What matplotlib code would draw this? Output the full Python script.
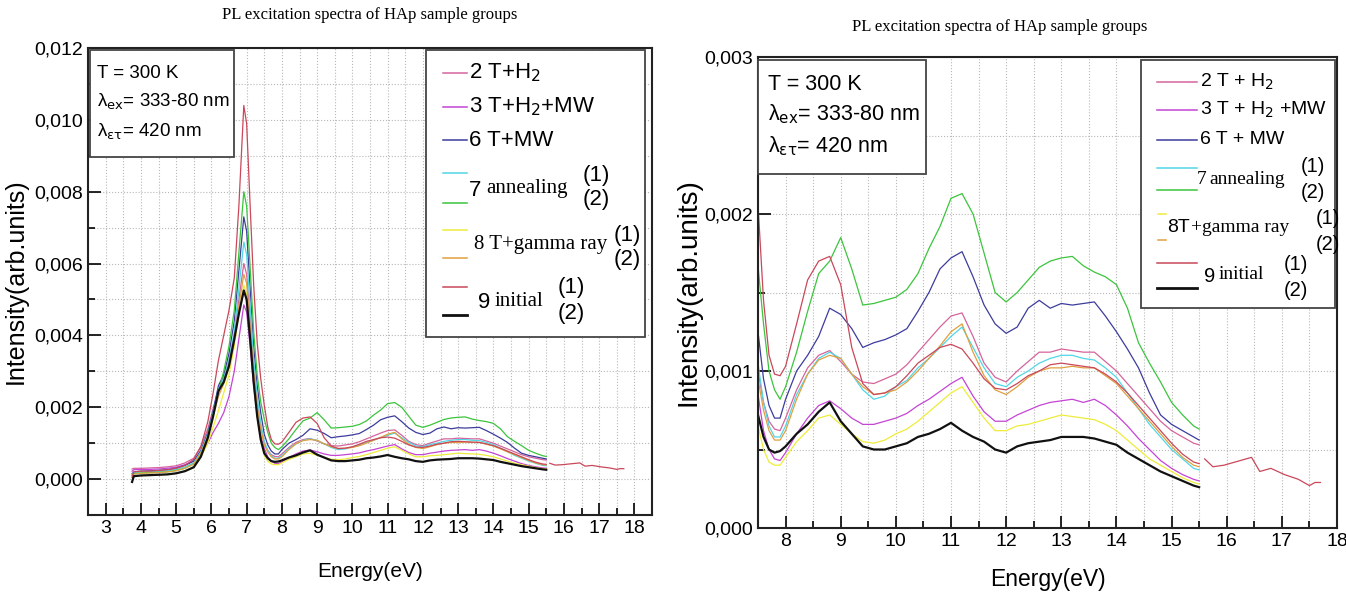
import matplotlib
matplotlib.use("Agg")
import matplotlib.pyplot as plt
from matplotlib.lines import Line2D
from matplotlib.patches import Rectangle
from matplotlib.ticker import MultipleLocator, FuncFormatter
import numpy as np

SANS = ['Liberation Sans Narrow', 'Liberation Sans', 'DejaVu Sans']
SERIF = ['Liberation Serif', 'DejaVu Serif']
plt.rcParams['font.family'] = SANS
plt.rcParams['mathtext.fontset'] = 'custom'
plt.rcParams['mathtext.rm'] = 'Liberation Sans Narrow'

# energy grid (eV) shared by all spectra
energy = [3.75, 3.8, 4.0, 4.25, 4.5, 4.75, 5.0, 5.25, 5.5, 5.7, 5.9, 6.05, 6.2, 6.35,
          6.5, 6.65, 6.78, 6.92, 7.0, 7.1, 7.2, 7.3, 7.4, 7.5, 7.6, 7.7, 7.8, 7.9, 8.0,
          8.2, 8.4, 8.6, 8.8, 9.0, 9.2, 9.4, 9.6, 9.8, 10.0, 10.2, 10.4, 10.6, 10.8,
          11.0, 11.2, 11.4, 11.6, 11.8, 12.0, 12.2, 12.4, 12.6, 12.8, 13.0, 13.2, 13.4,
          13.6, 13.8, 14.0, 14.2, 14.4, 14.6, 14.8, 15.0, 15.2, 15.4, 15.5]

# intensities in units of 1e-3 arb. units
t_h2 = [0.28, 0.30, 0.30, 0.31, 0.32, 0.34, 0.37, 0.45, 0.58, 0.90, 1.40, 1.95, 2.50, 2.85,
        3.30, 4.00, 5.00, 6.00, 5.70, 4.50, 3.10, 2.10, 1.50, 1.00, 0.80, 0.68, 0.63, 0.62, 0.70,
        0.88, 1.02, 1.10, 1.13, 1.06, 0.98, 0.93, 0.92, 0.95, 0.98, 1.04, 1.12, 1.20, 1.28,
        1.35, 1.37, 1.22, 1.05, 0.96, 0.93, 1.00, 1.06, 1.12, 1.12, 1.14, 1.13, 1.12,
        1.12, 1.06, 1.00, 0.92, 0.84, 0.76, 0.68, 0.62, 0.58, 0.54, 0.53]
t_h2_mw = [0.22, 0.26, 0.27, 0.27, 0.28, 0.30, 0.33, 0.40, 0.50, 0.72, 1.00, 1.30, 1.55, 1.85,
           2.30, 3.00, 3.90, 4.85, 4.65, 3.70, 2.60, 1.75, 1.20, 0.85, 0.62, 0.50, 0.44, 0.43, 0.48,
           0.60, 0.70, 0.78, 0.81, 0.76, 0.70, 0.66, 0.66, 0.68, 0.70, 0.73, 0.78, 0.82, 0.87,
           0.92, 0.96, 0.84, 0.74, 0.68, 0.68, 0.72, 0.75, 0.78, 0.80, 0.81, 0.82, 0.80,
           0.82, 0.78, 0.72, 0.65, 0.57, 0.50, 0.43, 0.38, 0.34, 0.31, 0.30]
t_mw = [0.15, 0.20, 0.22, 0.23, 0.24, 0.26, 0.30, 0.38, 0.50, 0.80, 1.30, 1.90, 2.60, 2.90,
        3.50, 4.40, 5.80, 7.30, 6.90, 5.30, 3.70, 2.60, 1.85, 1.25, 0.95, 0.78, 0.70, 0.70, 0.82,
        1.00, 1.10, 1.22, 1.40, 1.36, 1.27, 1.15, 1.18, 1.20, 1.23, 1.27, 1.38, 1.50, 1.65,
        1.72, 1.76, 1.60, 1.42, 1.30, 1.24, 1.28, 1.40, 1.45, 1.40, 1.43, 1.42, 1.43,
        1.44, 1.35, 1.25, 1.14, 1.02, 0.86, 0.72, 0.66, 0.62, 0.58, 0.56]
anneal_1 = [0.12, 0.18, 0.20, 0.20, 0.21, 0.23, 0.27, 0.34, 0.45, 0.75, 1.25, 1.85, 2.50, 2.80,
            3.30, 4.10, 5.30, 6.60, 6.25, 4.80, 3.30, 2.30, 1.55, 1.05, 0.80, 0.65, 0.58, 0.58, 0.65,
            0.85, 0.98, 1.08, 1.12, 1.08, 0.98, 0.88, 0.82, 0.84, 0.90, 0.94, 1.02, 1.08, 1.15,
            1.22, 1.28, 1.15, 1.02, 0.92, 0.90, 0.96, 1.00, 1.05, 1.08, 1.10, 1.10, 1.08,
            1.07, 1.02, 0.96, 0.86, 0.76, 0.66, 0.58, 0.50, 0.44, 0.38, 0.37]
anneal_2 = [0.10, 0.15, 0.17, 0.18, 0.19, 0.20, 0.24, 0.30, 0.42, 0.70, 1.20, 1.80, 2.40, 3.00,
            3.70, 4.70, 6.30, 8.00, 7.60, 5.90, 4.10, 2.90, 2.15, 1.67, 1.30, 1.00, 0.88, 0.82, 0.90,
            1.12, 1.38, 1.62, 1.70, 1.85, 1.65, 1.42, 1.43, 1.45, 1.47, 1.52, 1.62, 1.78, 1.92,
            2.10, 2.13, 2.00, 1.75, 1.50, 1.44, 1.50, 1.58, 1.66, 1.70, 1.72, 1.73, 1.67,
            1.63, 1.60, 1.55, 1.40, 1.18, 1.05, 0.93, 0.80, 0.72, 0.65, 0.63]
gamma_1 = [0.05, 0.08, 0.10, 0.10, 0.11, 0.13, 0.16, 0.22, 0.32, 0.60, 1.00, 1.45, 1.90, 2.40,
           2.90, 3.70, 4.60, 5.40, 5.15, 4.00, 2.70, 1.75, 1.10, 0.65, 0.50, 0.42, 0.40, 0.40, 0.45,
           0.55, 0.62, 0.70, 0.72, 0.66, 0.60, 0.55, 0.54, 0.56, 0.60, 0.63, 0.68, 0.74, 0.80,
           0.86, 0.90, 0.80, 0.70, 0.62, 0.62, 0.65, 0.66, 0.68, 0.70, 0.72, 0.71, 0.70,
           0.69, 0.66, 0.62, 0.56, 0.50, 0.44, 0.40, 0.36, 0.32, 0.29, 0.28]
gamma_2 = [0.10, 0.14, 0.16, 0.17, 0.18, 0.20, 0.23, 0.30, 0.42, 0.72, 1.20, 1.75, 2.30, 2.65,
           3.10, 3.80, 4.80, 5.70, 5.45, 4.20, 2.95, 2.00, 1.40, 0.95, 0.75, 0.62, 0.56, 0.56, 0.62,
           0.82, 0.98, 1.07, 1.10, 1.08, 0.98, 0.90, 0.85, 0.86, 0.88, 0.93, 1.00, 1.08, 1.16,
           1.25, 1.30, 1.12, 0.97, 0.88, 0.85, 0.90, 0.96, 1.00, 1.02, 1.02, 1.03, 1.02,
           1.02, 0.97, 0.92, 0.84, 0.76, 0.68, 0.60, 0.52, 0.45, 0.40, 0.39]
initial_1 = [0.05, 0.20, 0.22, 0.22, 0.24, 0.26, 0.30, 0.38, 0.55, 0.90, 1.60, 2.40, 3.30, 4.00,
             4.70, 5.60, 7.60, 10.40, 9.90, 7.60, 5.40, 3.80, 2.80, 2.06, 1.45, 1.10, 0.98, 0.97, 1.03,
             1.30, 1.58, 1.70, 1.73, 1.55, 1.15, 0.92, 0.85, 0.86, 0.90, 0.97, 1.05, 1.10, 1.15,
             1.17, 1.14, 1.05, 0.95, 0.89, 0.88, 0.92, 0.97, 1.00, 1.04, 1.05, 1.04, 1.03,
             1.02, 0.98, 0.93, 0.86, 0.78, 0.70, 0.62, 0.54, 0.47, 0.42, 0.41]
initial_2 = [-0.08, 0.08, 0.10, 0.11, 0.12, 0.13, 0.16, 0.22, 0.33, 0.62, 1.15, 1.75, 2.45, 2.70,
             3.15, 3.90, 4.60, 5.25, 5.00, 3.90, 2.70, 1.75, 1.10, 0.72, 0.58, 0.50, 0.48, 0.49, 0.52,
             0.60, 0.66, 0.74, 0.80, 0.68, 0.60, 0.52, 0.50, 0.50, 0.52, 0.54, 0.58, 0.60, 0.63,
             0.67, 0.62, 0.58, 0.55, 0.50, 0.48, 0.52, 0.54, 0.55, 0.56, 0.58, 0.58, 0.58,
             0.57, 0.55, 0.53, 0.48, 0.44, 0.40, 0.36, 0.33, 0.30, 0.27, 0.26]

# the "9 initial (1)" spectrum continues past 15.5 eV
tail_energy = [15.6, 15.75, 15.95, 16.25, 16.45, 16.6, 16.8, 17.05, 17.3, 17.5, 17.6, 17.7]
initial_1_tail = [0.44, 0.39, 0.40, 0.43, 0.45, 0.36, 0.38, 0.34, 0.31, 0.27, 0.29, 0.29]

colors = {'2': '#d5649c', '3': '#c444d4', '6': '#3c3c9c', '7a': '#52d6e6', '7b': '#3cc43c',
          '8a': '#eeec3a', '8b': '#e0a040', '9a': '#c9485a', '9b': '#111111'}

spectra = [(t_h2, '2'), (t_h2_mw, '3'), (t_mw, '6'), (anneal_1, '7a'), (anneal_2, '7b'),
           (gamma_1, '8a'), (gamma_2, '8b'), (initial_1, '9a'), (initial_2, '9b')]

W, H = 1346, 592
fig = plt.figure(figsize=(W / 100, H / 100), dpi=100)
fig.patch.set_facecolor('white')


def fx(px):
    return px / W


def fy(py):
    return 1 - py / H


def comma(v, pos):
    return f"{v:.3f}".replace('.', ',')


def draw_panel(ax, ylim, xlim, ymaj, ymin):
    e = np.array(energy)
    for vals, key in spectra:
        lw = 1.6 if key == '9b' else 0.9
        ax.plot(e, np.array(vals) * 1e-3, color=colors[key], lw=lw)
    ax.plot(tail_energy, np.array(initial_1_tail) * 1e-3, color=colors['9a'], lw=0.9)
    ax.set_xlim(*xlim)
    ax.set_ylim(*ylim)
    ax.xaxis.set_major_locator(MultipleLocator(1))
    ax.xaxis.set_minor_locator(MultipleLocator(0.5))
    ax.yaxis.set_major_locator(MultipleLocator(ymaj))
    ax.yaxis.set_minor_locator(MultipleLocator(ymin))
    ax.yaxis.set_major_formatter(FuncFormatter(comma))
    ax.grid(which='both', ls=':', color='#b8b8b8', lw=0.8)
    ax.tick_params(which='both', direction='in', top=False, right=False, width=1.2)
    ax.tick_params(which='major', length=9, labelsize=14)
    ax.tick_params(which='minor', length=5)
    for s in ax.spines.values():
        s.set_linewidth(1.5)
        s.set_color('#222222')


ax1 = fig.add_axes([fx(88), fy(515), (652 - 88) / W, (515 - 48) / H])
draw_panel(ax1, (-0.001, 0.012), (2.5, 18.5), 0.002, 0.001)
ax1.set_xlabel('Energy(eV)', fontsize=15, labelpad=18)
ax1.set_ylabel('Intensity(arb.units)', fontsize=18, labelpad=5)

ax2 = fig.add_axes([fx(758), fy(528), (1337 - 758) / W, (528 - 57) / H])
draw_panel(ax2, (0, 0.003), (7.5, 18), 0.001, 0.0005)
ax2.set_xlabel('Energy(eV)', fontsize=16.5, labelpad=13)
ax2.set_ylabel('Intensity(arb.units)', fontsize=20, labelpad=2)

fig.text(fx(370), fy(15), 'PL excitation spectra of HAp sample groups',
         family=SERIF, fontsize=12, ha='center', va='center')
fig.text(fx(1000), fy(27), 'PL excitation spectra of HAp sample groups',
         family=SERIF, fontsize=12, ha='center', va='center')


def box(x0, y0, x1, y1, ec='#444444'):
    fig.add_artist(Rectangle((fx(x0), fy(y1)), (x1 - x0) / W, (y1 - y0) / H,
                             transform=fig.transFigure, fc='white', ec=ec, lw=1.3, zorder=3))


def seg(x0, x1, y, key):
    lw = 2.0 if key == '9b' else 1.1
    fig.add_artist(Line2D([fx(x0), fx(x1)], [fy(y), fy(y)], transform=fig.transFigure,
                          color=colors[key], lw=lw, zorder=4))


def txt(x, y, s, size, serif=False):
    fig.text(fx(x), fy(y), s, fontsize=size, family=SERIF if serif else SANS,
             ha='left', va='center', zorder=5)


# info boxes
box(90, 50, 234, 157)
txt(97, 73, 'T = 300 K', 13.5)
txt(97, 102, r'λ$_{\rm ex}$= 333-80 nm', 13.5)
txt(97, 132, r'λ$_{\rm ετ}$= 420 nm', 13.5)

box(758, 60, 926, 174)
txt(768, 84, 'T = 300 K', 15.5)
txt(768, 114, r'λ$_{\rm ex}$= 333-80 nm', 15.5)
txt(768, 146, r'λ$_{\rm ετ}$= 420 nm', 15.5)

# left legend
box(426, 50, 645, 337)
seg(443, 467, 73, '2')
txt(469, 73, r'2 T+H$_2$', 16)
seg(443, 467, 107, '3')
txt(469, 107, r'3 T+H$_2$+MW', 16)
seg(443, 467, 140, '6')
txt(469, 140, '6 T+MW', 16)
seg(443, 467, 173, '7a')
seg(443, 467, 203, '7b')
txt(469, 190, '7', 16)
txt(486, 188, 'annealing', 15, serif=True)
txt(583, 175, '(1)', 16)
txt(583, 199, '(2)', 16)
seg(443, 467, 230, '8a')
seg(443, 467, 258, '8b')
txt(474, 245, '8 T+gamma ray', 15, serif=True)
txt(614, 236, '(1)', 16)
txt(614, 259, '(2)', 16)
seg(443, 467, 287, '9a')
seg(443, 467, 315, '9b')
txt(478, 303, '9', 16)
txt(495, 301, 'initial', 15, serif=True)
txt(558, 288, '(1)', 16)
txt(558, 314, '(2)', 16)

# right legend
box(1141, 60, 1335, 308)
seg(1157, 1197, 82, '2')
txt(1200, 82, r'2 T + H$_2$', 14)
seg(1157, 1197, 110, '3')
txt(1200, 110, r'3 T + H$_2$ +MW', 14)
seg(1157, 1197, 140, '6')
txt(1200, 140, '6 T + MW', 14)
seg(1157, 1197, 168, '7a')
seg(1157, 1197, 190, '7b')
txt(1197, 179, '7', 14, serif=True)
txt(1209, 179, 'annealing', 14, serif=True)
txt(1301, 166, '(1)', 14.5)
txt(1301, 192, '(2)', 14.5)
seg(1158, 1166, 214, '8a')
seg(1158, 1166, 240, '8b')
txt(1167, 228, '8T', 14)
txt(1191, 228, '+gamma ray', 14, serif=True)
txt(1316, 218, '(1)', 14.5)
txt(1316, 245, '(2)', 14.5)
seg(1157, 1197, 263, '9a')
seg(1157, 1197, 288, '9b')
txt(1204, 276, '9', 14.5)
txt(1219, 275, 'initial', 14, serif=True)
txt(1284, 265, '(1)', 14.5)
txt(1284, 291, '(2)', 14.5)

fig.savefig('out.png', dpi=100)
